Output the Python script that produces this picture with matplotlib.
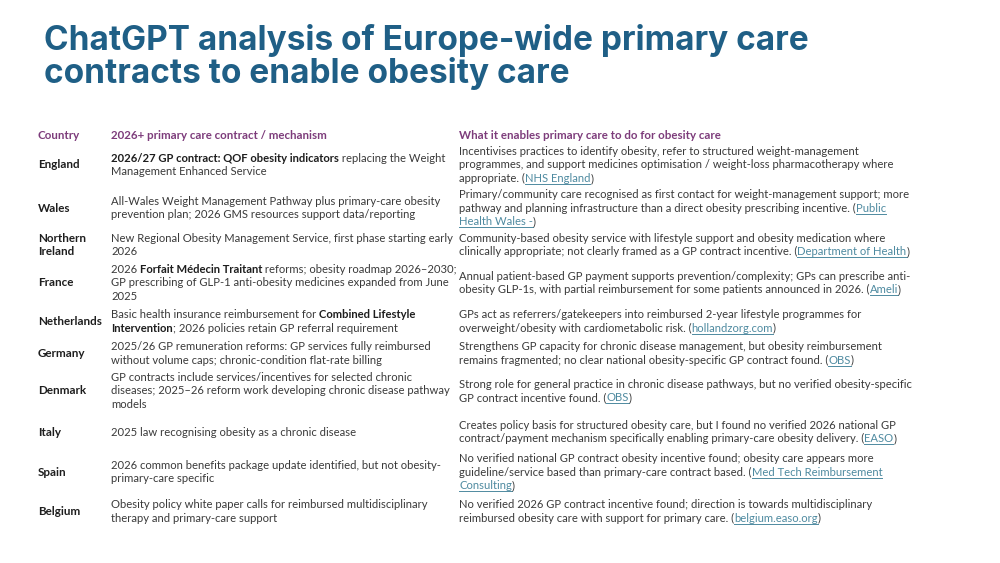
import re
import matplotlib
matplotlib.use("Agg")
import matplotlib.pyplot as plt

# Slide content
title_lines = ["ChatGPT analysis of Europe-wide primary care",
               "contracts to enable obesity care"]

headers = ["Country", "2026+ primary care contract / mechanism",
           "What it enables primary care to do for obesity care"]

countries = [["England"], ["Wales"], ["Northern", "Ireland"], ["France"],
             ["Netherlands"], ["Germany"], ["Denmark"], ["Italy"], ["Spain"],
             ["Belgium"]]

# **bold** and [link] markup inside the cell lines
mechanisms = [
    ["**2026/27 GP contract: QOF obesity indicators** replacing the Weight",
     "Management Enhanced Service"],
    ["All-Wales Weight Management Pathway plus primary-care obesity",
     "prevention plan; 2026 GMS resources support data/reporting"],
    ["New Regional Obesity Management Service, first phase starting early",
     "2026"],
    ["2026 **Forfait Médecin Traitant** reforms; obesity roadmap 2026–2030;",
     "GP prescribing of GLP-1 anti-obesity medicines expanded from June",
     "2025"],
    ["Basic health insurance reimbursement for **Combined Lifestyle**",
     "**Intervention**; 2026 policies retain GP referral requirement"],
    ["2025/26 GP remuneration reforms: GP services fully reimbursed",
     "without volume caps; chronic-condition flat-rate billing"],
    ["GP contracts include services/incentives for selected chronic",
     "diseases; 2025–26 reform work developing chronic disease pathway",
     "models"],
    ["2025 law recognising obesity as a chronic disease"],
    ["2026 common benefits package update identified, but not obesity-",
     "primary-care specific"],
    ["Obesity policy white paper calls for reimbursed multidisciplinary",
     "therapy and primary-care support"],
]

enables = [
    ["Incentivises practices to identify obesity, refer to structured weight-management",
     "programmes, and support medicines optimisation / weight-loss pharmacotherapy where",
     "appropriate. ([NHS England])"],
    ["Primary/community care recognised as first contact for weight-management support; more",
     "pathway and planning infrastructure than a direct obesity prescribing incentive. ([Public]",
     "[Health Wales -])"],
    ["Community-based obesity service with lifestyle support and obesity medication where",
     "clinically appropriate; not clearly framed as a GP contract incentive. ([Department of Health])"],
    ["Annual patient-based GP payment supports prevention/complexity; GPs can prescribe anti-",
     "obesity GLP-1s, with partial reimbursement for some patients announced in 2026. ([Ameli])"],
    ["GPs act as referrers/gatekeepers into reimbursed 2-year lifestyle programmes for",
     "overweight/obesity with cardiometabolic risk. ([hollandzorg.com])"],
    ["Strengthens GP capacity for chronic disease management, but obesity reimbursement",
     "remains fragmented; no clear national obesity-specific GP contract found. ([OBS])"],
    ["Strong role for general practice in chronic disease pathways, but no verified obesity-specific",
     "GP contract incentive found. ([OBS])"],
    ["Creates policy basis for structured obesity care, but I found no verified 2026 national GP",
     "contract/payment mechanism specifically enabling primary-care obesity delivery. ([EASO])"],
    ["No verified national GP contract obesity incentive found; obesity care appears more",
     "guideline/service based than primary-care contract based. ([Med Tech Reimbursement]",
     "[Consulting])"],
    ["No verified 2026 GP contract incentive found; direction is towards multidisciplinary",
     "reimbursed obesity care with support for primary care. ([belgium.easo.org])"],
]

# layout (pixels of a 1000x563 slide)
row_y = [165, 208, 245, 283, 321.5, 353.5, 391, 432, 472, 511.5]
col_x = [38, 111, 459]
line_h = 13.5

TITLE_C = "#1F5F86"
HEAD_C = "#7D3C7B"
BODY_C = "#3A3A3A"
BOLD_C = "#1E1E1E"
LINK_C = "#4E8AA0"
FONT = "Lato"
FS = 8.1

fig = plt.figure(figsize=(10, 5.63), dpi=100)
ax = fig.add_axes([0, 0, 1, 1])
ax.set_xlim(0, 1000)
ax.set_ylim(563, 0)
ax.axis("off")
fig.canvas.draw()
renderer = fig.canvas.get_renderer()

for i, t in enumerate(title_lines):
    ax.text(44, 50 + i * 33.5, t, fontsize=24, fontweight="bold",
            color=TITLE_C, family="Inter", va="baseline")

for x, h in zip(col_x, headers):
    ax.text(x, 139, h, fontsize=FS + 0.2, fontweight="bold", color=HEAD_C,
            family=FONT, va="baseline")


def draw_line(x, y, line, base_color):
    parts = [p for p in re.split(r"(\*\*.*?\*\*|\[.*?\])", line) if p]
    for p in parts:
        weight, color, link = "normal", base_color, False
        if p.startswith("**"):
            p, weight, color = p[2:-2], "bold", BOLD_C
        elif p.startswith("["):
            p, color, link = p[1:-1], LINK_C, True
        t = ax.text(x, y, p, fontsize=FS, fontweight=weight, color=color,
                    family=FONT, va="baseline")
        bb = t.get_window_extent(renderer)
        w = bb.width * 1000 / fig.bbox.width
        if link:
            ax.plot([x, x + w], [y + 2, y + 2], color=LINK_C, lw=0.7)
        x += w


def draw_cell(x, yc, lines, color, bold=False):
    n = len(lines)
    for k, line in enumerate(lines):
        y = yc + (k - (n - 1) / 2) * line_h + 3.5
        if bold:
            ax.text(x, y, line, fontsize=FS + 0.3, fontweight="bold", color=BOLD_C,
                    family=FONT, va="baseline")
        else:
            draw_line(x, y, line, color)


for yc, c, m, e in zip(row_y, countries, mechanisms, enables):
    draw_cell(col_x[0], yc, c, BOLD_C, bold=True)
    draw_cell(col_x[1], yc, m, BODY_C)
    draw_cell(col_x[2], yc, e, BODY_C)

fig.savefig("out.png", dpi=100, facecolor="white")
